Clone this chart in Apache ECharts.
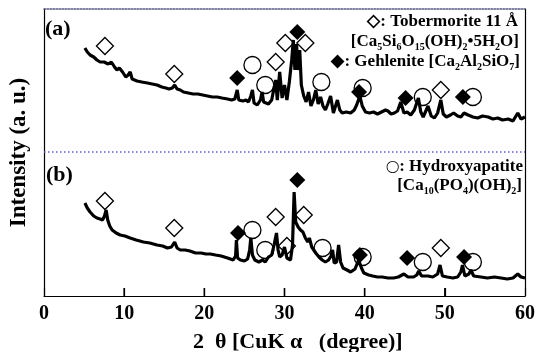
<!DOCTYPE html>
<html>
<head>
<meta charset="utf-8">
<script src="https://cdn.jsdelivr.net/npm/echarts@6/dist/echarts.min.js"></script>
<style>
html, body { margin: 0; padding: 0; background: #fff; }
#chart_xrd { width: 537px; height: 352px; }
</style>
</head>
<body>
<div id="chart_xrd"></div>
<script>
// XRD patterns, [2theta, intensity (a.u.)], (a) shifted above (b)
var patternA = [
	[5.1, 248], [5.4, 244], [5.75, 241], [6.2, 239], [6.6, 236], [7.0, 234], [7.5, 234], [8.0, 232],
	[8.4, 234], [8.8, 229], [9.1, 226], [9.4, 228], [9.8, 224], [10.2, 219], [10.5, 221], [10.75, 224],
	[11.0, 217], [11.6, 215], [12.2, 214], [12.9, 213], [13.5, 212], [14.1, 211], [14.7, 209], [15.2, 208],
	[15.6, 207], [16.0, 208], [16.3, 211], [16.6, 207], [17.0, 206], [17.4, 204], [18.0, 203], [18.6, 202],
	[19.2, 202], [19.8, 201], [20.4, 200], [21.0, 199], [21.6, 199], [22.2, 198], [22.9, 197], [23.4, 196],
	[23.8, 197], [24.1, 206], [24.3, 196], [24.8, 195], [25.2, 196], [25.5, 194], [25.8, 200], [26.0, 206],
	[26.2, 193], [26.6, 191], [27.0, 196], [27.2, 204], [27.4, 194], [27.6, 193], [28.0, 192], [28.4, 196],
	[28.9, 216], [29.1, 196], [29.4, 224], [29.7, 198], [30.0, 211], [30.3, 196], [30.6, 214], [30.9, 236],
	[31.1, 256], [31.3, 226], [31.5, 252], [31.7, 226], [31.9, 246], [32.1, 211], [32.4, 200], [32.7, 194],
	[33.0, 204], [33.3, 190], [33.6, 196], [33.9, 206], [34.2, 192], [34.5, 199], [34.8, 190], [35.1, 186],
	[35.4, 192], [35.75, 200], [36.1, 183], [36.6, 196], [36.9, 186], [37.2, 183], [37.7, 184], [38.25, 183],
	[38.7, 186], [39.0, 191], [39.4, 200], [39.7, 190], [40.1, 184], [40.6, 183], [41.1, 184], [41.6, 182],
	[42.1, 184], [42.6, 186], [42.9, 185], [43.3, 182], [43.7, 183], [44.1, 185], [44.5, 194], [44.9, 183],
	[45.3, 184], [45.75, 181], [46.2, 186], [46.7, 198], [47.0, 184], [47.3, 179], [47.9, 190], [48.3, 180],
	[48.7, 178], [49.1, 183], [49.5, 196], [49.8, 182], [50.2, 179], [50.7, 181], [51.1, 183], [51.6, 180],
	[52.0, 179], [52.4, 183], [52.9, 181], [53.5, 179], [54.1, 178], [54.7, 180], [55.4, 179], [56.0, 177],
	[56.6, 178], [57.2, 176], [57.9, 177], [58.5, 175], [59.1, 183], [59.5, 177], [60.0, 179]
];
var patternB = [
	[5.1, 93], [5.4, 88], [5.75, 84], [6.2, 80], [6.6, 78], [7.0, 77], [7.3, 76], [7.55, 80],
	[7.75, 86], [7.95, 76], [8.2, 70], [8.5, 66], [9.0, 63], [9.5, 61], [10.1, 60], [10.75, 58],
	[11.5, 56], [12.4, 54], [13.2, 53], [14.1, 51], [14.8, 50], [15.4, 48], [15.9, 49], [16.3, 54],
	[16.6, 48], [17.0, 46], [17.6, 46], [18.2, 45], [18.9, 43], [19.6, 43], [20.2, 42], [20.75, 42],
	[21.4, 41], [22.1, 40], [22.9, 38], [23.6, 36], [23.9, 40], [24.0, 56], [24.15, 38], [24.5, 36],
	[25.0, 35], [25.4, 37], [25.65, 46], [25.8, 58], [26.0, 41], [26.3, 36], [26.8, 34], [27.25, 36],
	[27.6, 34], [28.0, 39], [28.4, 41], [28.7, 51], [29.0, 63], [29.2, 46], [29.4, 39], [29.7, 41],
	[30.0, 49], [30.3, 38], [30.75, 36], [31.0, 51], [31.2, 104], [31.4, 74], [31.7, 69], [32.0, 66],
	[32.3, 64], [32.6, 58], [32.9, 54], [33.1, 58], [33.4, 49], [33.9, 43], [34.3, 39], [34.7, 36],
	[35.1, 34], [35.5, 36], [35.8, 40], [36.0, 46], [36.2, 33], [36.5, 34], [36.75, 51], [37.0, 34],
	[37.3, 28], [37.8, 26], [38.25, 24], [38.8, 27], [39.25, 36], [39.6, 28], [39.9, 23], [40.5, 21],
	[41.0, 20], [41.6, 19], [42.2, 19], [42.9, 18], [43.6, 18], [44.2, 19], [44.9, 22], [45.4, 19],
	[46.1, 19], [46.5, 21], [46.75, 25], [47.1, 20], [47.9, 20], [48.5, 19], [49.1, 22], [49.4, 31],
	[49.7, 20], [50.3, 19], [51.0, 18], [51.6, 19], [52.0, 24], [52.2, 31], [52.5, 20], [53.0, 22],
	[53.25, 26], [53.6, 20], [54.5, 19], [55.3, 18], [56.2, 19], [57.0, 18], [57.8, 17], [58.5, 18],
	[59.1, 22], [59.5, 19], [60.0, 18]
];
// 相 markers
var tobermorite = [[7.6, 250], [16.25, 222], [28.9, 234], [30.1, 253], [32.6, 253], [49.5, 206],
	[7.6, 95], [16.25, 68], [28.9, 79], [30.3, 50], [32.4, 81], [49.5, 48]];
var gehlenite = [[24.1, 218], [31.6, 264], [39.3, 204], [45.1, 198], [52.25, 199],
	[24.2, 63], [31.6, 116], [39.4, 41], [45.3, 38], [52.4, 39]];
var hydroxyapatite = [[26.0, 231], [27.6, 211], [34.6, 214], [39.75, 208], [47.25, 199], [53.5, 199],
	[26.0, 66], [27.6, 46], [34.75, 48], [39.75, 39], [47.25, 34], [53.5, 34]];
var xTicks = [0, 60, 10];
var tickLen = 8;

var serif = '"Liberation Serif", "Times New Roman", serif';

// 内向刻度, 用 scatter 的细长 rect 画
var tickMarks = [];
for (var t = xTicks[0] + xTicks[2]; t < xTicks[1]; t += xTicks[2]) {
	tickMarks.push([t, 0]);
}

function richSub(size) {
	return {
		m: { fontSize: size, fontWeight: 'bold', fontFamily: serif, lineHeight: 20, color: '#000' },
		c: { fontSize: 12, fontWeight: 'bold', fontFamily: '"DejaVu Sans"', lineHeight: 20, color: '#000' },
		s: { fontSize: 10, fontWeight: 'bold', fontFamily: serif, lineHeight: 10, padding: [10, 0, 0, 0], color: '#000' }
	};
}
function label(x, y, text) {
	return {
		type: 'text', x: x, y: y, z: 10,
		style: { text: text, align: 'right', verticalAlign: 'middle', rich: richSub(17), fill: '#000' }
	};
}

var option_xrd = {
	animation: false,
	grid: { left: 44, right: 12, top: 9, bottom: 56, containLabel: false, outerBoundsMode: 'none' },
	xAxis: [{
		type: 'value', min: xTicks[0], max: xTicks[1], interval: xTicks[2],
		axisLine: { show: true, onZero: false, lineStyle: { color: '#000', width: 1.2 } },
		axisTick: { show: true, inside: true, length: tickLen, lineStyle: { color: '#000', width: 1.2 } },
		axisLabel: { fontFamily: serif, fontWeight: 'bold', fontSize: 20, color: '#000', margin: 8 },
		splitLine: { show: false }
	}, {
		type: 'value', min: xTicks[0], max: xTicks[1], interval: xTicks[2], position: 'top',
		axisLine: { show: true, onZero: false, lineStyle: { color: '#555580', type: [1.5, 1.5], width: 1.5 } },
		axisTick: { show: false }, axisLabel: { show: false }, splitLine: { show: false }
	}],
	yAxis: [{
		type: 'value', min: 0, max: 287,
		name: 'Intensity (a. u.)', nameLocation: 'middle', nameGap: 13,
		nameTextStyle: { fontFamily: serif, fontWeight: 'bold', fontSize: 23, color: '#000' },
		axisLine: { show: true, onZero: false, lineStyle: { color: '#000', width: 1.2 } },
		axisTick: { show: false }, axisLabel: { show: false }, splitLine: { show: false }
	}, {
		type: 'value', min: 0, max: 287, position: 'right',
		axisLine: { show: true, onZero: false, lineStyle: { color: '#000', width: 1.2 } },
		axisTick: { show: false }, axisLabel: { show: false }, splitLine: { show: false }
	}],
	graphic: [
		{ type: 'text', x: 45, y: 29, style: { text: '(a)', font: 'bold 22px ' + serif, fill: '#000', verticalAlign: 'middle' } },
		{ type: 'text', x: 46, y: 175, style: { text: '(b)', font: 'bold 22px ' + serif, fill: '#000', verticalAlign: 'middle' } },
		{ type: 'text', x: 193, y: 342, style: { text: '2  θ [CuK α   (degree)]', font: 'bold 22px ' + serif, fill: '#000', verticalAlign: 'middle' } },
		label(518, 22, '{m|◇: Tobermorite 11 Å}'),
		label(519, 42, '{m|[Ca}{s|5}{m|Si}{s|6}{m|O}{s|15}{m|(OH)}{s|2}{m|•5H}{s|2}{m|O]}'),
		label(520, 62, '{m|◆: Gehlenite [Ca}{s|2}{m|Al}{s|2}{m|SiO}{s|7}{m|]}'),
		label(523, 167, '{c|◯}{m|: Hydroxyapatite}'),
		label(522, 186, '{m|[Ca}{s|10}{m|(PO}{s|4}{m|)(OH)}{s|2}{m|]}')
	],
	series: [{
		type: 'line', data: patternA, showSymbol: false,
		lineStyle: { color: '#000', width: 3.2 },
		markLine: {
			silent: true, symbol: 'none', label: { show: false },
			lineStyle: { color: '#5a5ad8', type: [1.5, 2.5], width: 1.5 },
			data: [{ yAxis: 144 }]
		}
	}, {
		type: 'line', data: patternB, showSymbol: false,
		lineStyle: { color: '#000', width: 3.2 }
	}, {
		type: 'scatter', data: tickMarks, symbol: 'rect', symbolSize: [1.5, tickLen],
		symbolOffset: [0, -tickLen / 2], clip: false, silent: true,
		itemStyle: { color: '#000', opacity: 1 }
	}, {
		type: 'scatter', data: tobermorite, symbol: 'diamond', symbolSize: 17,
		itemStyle: { color: 'transparent', borderColor: '#000', borderWidth: 1.3, opacity: 1 }
	}, {
		type: 'scatter', data: hydroxyapatite, symbol: 'circle', symbolSize: 17,
		itemStyle: { color: 'transparent', borderColor: '#000', borderWidth: 1.3, opacity: 1 }
	}, {
		type: 'scatter', data: gehlenite, symbol: 'diamond', symbolSize: 16,
		itemStyle: { color: '#000', opacity: 1 }
	}]
};
var xrdChart = echarts.init(document.getElementById('chart_xrd'));
xrdChart.setOption(option_xrd);
</script>
</body>
</html>
